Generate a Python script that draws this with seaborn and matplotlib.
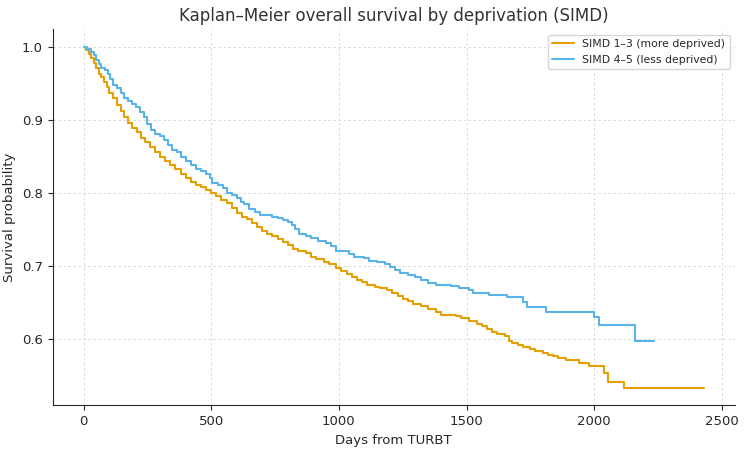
import numpy as np
import pandas as pd
import matplotlib
matplotlib.use("Agg")
import matplotlib.pyplot as plt
import seaborn as sns

# Kaplan-Meier step curves (days, survival)
simd13_days = [0, 10, 20, 30, 40, 50, 60, 70, 80, 90, 100, 115, 130, 145, 160, 175, 190, 210,
               225, 240, 260, 280, 300, 320, 340, 360, 380, 400, 420, 440, 460, 480, 500, 520,
               540, 560, 580, 600, 620, 640, 660, 680, 700, 720, 740, 760, 780, 800, 820, 840,
               870, 890, 910, 940, 960, 990, 1010, 1030, 1050, 1070, 1090, 1110, 1140, 1160,
               1190, 1210, 1230, 1250, 1270, 1290, 1320, 1350, 1380, 1400, 1460, 1480, 1510,
               1540, 1560, 1580, 1600, 1620, 1650, 1665, 1680, 1700, 1720, 1750, 1770, 1800,
               1820, 1840, 1860, 1890, 1940, 1980, 2040, 2055, 2115, 2430]
simd13_surv = [1.0, 0.995, 0.99, 0.984, 0.977, 0.97, 0.963, 0.958, 0.952, 0.944, 0.937, 0.93,
               0.92, 0.912, 0.903, 0.895, 0.889, 0.883, 0.875, 0.869, 0.862, 0.856, 0.849, 0.843,
               0.838, 0.832, 0.826, 0.82, 0.815, 0.811, 0.807, 0.804, 0.8, 0.795, 0.79, 0.786,
               0.779, 0.772, 0.767, 0.764, 0.759, 0.753, 0.748, 0.744, 0.741, 0.737, 0.733, 0.728,
               0.723, 0.72, 0.717, 0.712, 0.709, 0.705, 0.702, 0.697, 0.692, 0.688, 0.684, 0.68,
               0.677, 0.674, 0.671, 0.669, 0.667, 0.662, 0.658, 0.655, 0.651, 0.648, 0.645, 0.641,
               0.637, 0.633, 0.631, 0.628, 0.624, 0.62, 0.617, 0.613, 0.609, 0.606, 0.603, 0.597,
               0.594, 0.591, 0.588, 0.586, 0.583, 0.58, 0.578, 0.576, 0.573, 0.571, 0.567, 0.563,
               0.553, 0.541, 0.532, 0.532]

simd45_days = [0, 15, 30, 40, 50, 60, 70, 85, 95, 105, 115, 130, 145, 160, 175, 190, 205, 220,
               235, 250, 265, 280, 300, 315, 330, 345, 365, 380, 400, 420, 440, 460, 480, 495,
               505, 525, 545, 560, 580, 600, 615, 630, 650, 670, 690, 740, 760, 780, 800, 815,
               830, 845, 870, 890, 920, 950, 970, 990, 1040, 1060, 1100, 1120, 1150, 1180, 1200,
               1220, 1240, 1270, 1300, 1320, 1350, 1380, 1440, 1470, 1510, 1525, 1590, 1660,
               1720, 1735, 1810, 2000, 2020, 2160, 2235]
simd45_surv = [1.0, 0.997, 0.993, 0.988, 0.982, 0.976, 0.971, 0.968, 0.962, 0.955, 0.948, 0.943,
               0.937, 0.93, 0.926, 0.922, 0.917, 0.91, 0.903, 0.894, 0.886, 0.88, 0.877, 0.872,
               0.865, 0.859, 0.856, 0.849, 0.843, 0.838, 0.833, 0.829, 0.826, 0.82, 0.813, 0.81,
               0.806, 0.8, 0.797, 0.792, 0.787, 0.784, 0.778, 0.773, 0.769, 0.767, 0.765, 0.762,
               0.76, 0.755, 0.75, 0.744, 0.741, 0.738, 0.734, 0.731, 0.727, 0.72, 0.716, 0.712,
               0.71, 0.707, 0.705, 0.702, 0.698, 0.694, 0.69, 0.687, 0.684, 0.68, 0.676, 0.673,
               0.672, 0.67, 0.667, 0.663, 0.66, 0.657, 0.65, 0.644, 0.636, 0.629, 0.619, 0.597,
               0.597]

labels = ["SIMD 1–3 (more deprived)", "SIMD 4–5 (less deprived)"]
colors = ["#E69F00", "#56B4E9"]

df = pd.concat([
    pd.DataFrame({"days": simd13_days, "surv": simd13_surv, "group": labels[0]}),
    pd.DataFrame({"days": simd45_days, "surv": simd45_surv, "group": labels[1]}),
], ignore_index=True)

sns.set_style("ticks")
fig, ax = plt.subplots(figsize=(7.5, 4.53), dpi=100)
sns.lineplot(data=df, x="days", y="surv", hue="group", palette=colors,
             drawstyle="steps-post", linewidth=1.5, ax=ax, sort=False,
             estimator=None)

ax.grid(True, linestyle=(0, (3, 3)), color="#d3d3d3", linewidth=0.6)
sns.despine(ax=ax)
ax.set_title("Kaplan–Meier overall survival by deprivation (SIMD)", fontsize=12, color="#333333")
ax.set_xlabel("Days from TURBT", fontsize=9.5)
ax.set_ylabel("Survival probability", fontsize=9.5)
ax.set_yticks([0.6, 0.7, 0.8, 0.9, 1.0])
ax.tick_params(labelsize=9.5, length=3.5, pad=3.5)
ax.legend(loc="upper right", fontsize=7.8, title=None, frameon=True)

plt.subplots_adjust(left=0.07, right=0.98, top=0.935, bottom=0.105)
plt.savefig("out.png", dpi=100)
